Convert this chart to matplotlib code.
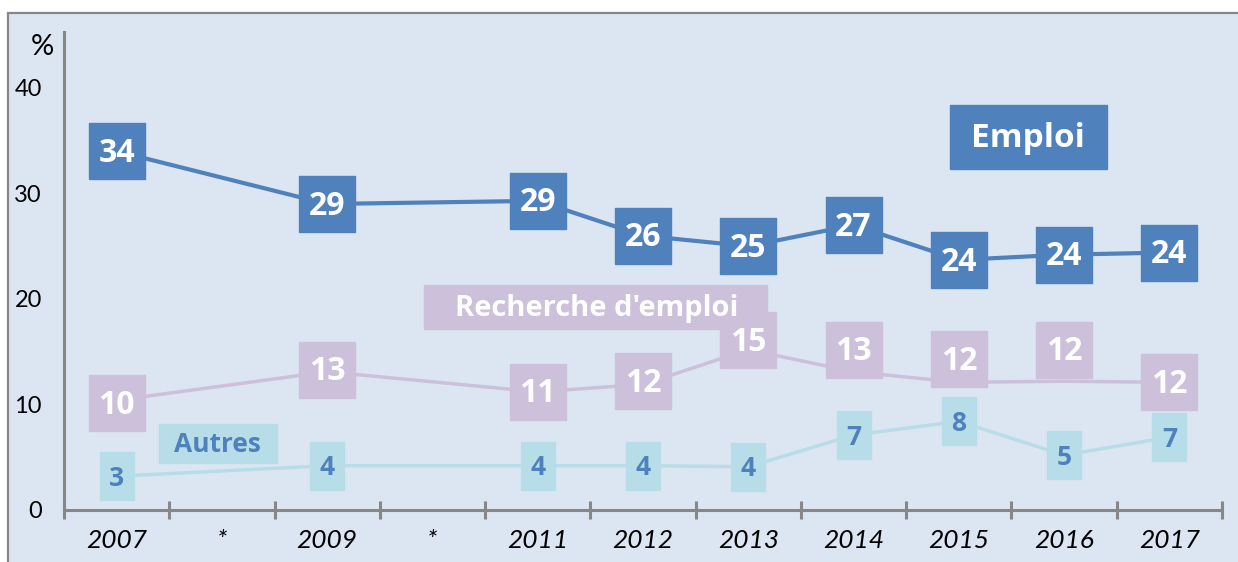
import numpy as np
import matplotlib
matplotlib.use("Agg")
import matplotlib.pyplot as plt
from matplotlib.patches import Rectangle

plt.rcParams['font.family'] = ['Lato', 'DejaVu Sans']

years = ['2007', '*', '2009', '*', '2011', '2012', '2013', '2014', '2015', '2016', '2017']

# line values (None = year not surveyed)
emploi = [34.0, None, 29.0, None, 29.3, 26.0, 25.0, 27.0, 23.7, 24.2, 24.4]
recherche = [10.4, None, 13.1, None, 11.2, 11.9, 15.2, 13.1, 12.1, 12.2, 12.1]
autres = [3.2, None, 4.2, None, 4.2, 4.2, 4.1, 7.1, 8.4, 5.2, 6.9]

# rounded labels shown in the boxes
emploi_lbl = [34, None, 29, None, 29, 26, 25, 27, 24, 24, 24]
recherche_lbl = [10, None, 13, None, 11, 12, 15, 13, 12, 12, 12]
autres_lbl = [3, None, 4, None, 4, 4, 4, 7, 8, 5, 7]

BG = '#dce6f2'
C_EMP = '#4f81bd'
C_REC = '#ccc0da'
C_AUT = '#b7dee8'
GREY = '#878787'
LBL_FONT = ['Open Sans', 'DejaVu Sans']

# label boxes nudged a bit (like in the original)
rec_shift = [-0.3, 0, 0.2, 0, 0, 0.3, 0.9, 2.1, 2.2, 3.0, 0]

fig = plt.figure(figsize=(12.38, 5.62), dpi=100)
fig.patch.set_facecolor('white')
frame = Rectangle((8 / 1238, -0.1), 1.2, 1 - 13 / 562 + 0.1, transform=fig.transFigure,
                  facecolor=BG, edgecolor=GREY, linewidth=1.6, zorder=-10)
fig.add_artist(frame)

ax = fig.add_axes([64 / 1238, 52 / 562, 1158 / 1238, 478 / 562])
ax.set_facecolor('none')
ax.set_xlim(-0.5, 10.5)
ax.set_ylim(0, 45.3)


def valid(vals):
    xs = [i for i, v in enumerate(vals) if v is not None]
    return np.array(xs), np.array([vals[i] for i in xs])


box_sq = [(-0.5, -0.5), (0.5, -0.5), (0.5, 0.5), (-0.5, 0.5), (-0.5, -0.5)]
box_tall = [(-0.34, -0.5), (0.34, -0.5), (0.34, 0.5), (-0.34, 0.5), (-0.34, -0.5)]

# Emploi
x, y = valid(emploi)
ax.plot(x, y, color=C_EMP, lw=3, zorder=2, solid_capstyle='round')
ax.plot(x, y, linestyle='none', marker=box_sq, markersize=40, color=C_EMP, zorder=4)
for i, v in enumerate(emploi):
    if v is None:
        continue
    ax.text(i, v - 0.2, str(emploi_lbl[i]), color='white', fontsize=23, fontweight='bold',
            family=LBL_FONT, ha='center', va='center', zorder=5)

# Recherche d'emploi
x, y = valid(recherche)
ys = np.array([recherche[i] + rec_shift[i] for i in x])
ax.plot(x, y, color=C_REC, lw=2.5, zorder=2)
ax.plot(x, ys, linestyle='none', marker=box_sq, markersize=40, color=C_REC, zorder=4)
for i, v in enumerate(recherche):
    if v is None:
        continue
    ax.text(i, v + rec_shift[i] - 0.2, str(recherche_lbl[i]), color='white', fontsize=23,
            fontweight='bold', family=LBL_FONT, ha='center', va='center', zorder=5)

# Autres
x, y = valid(autres)
ax.plot(x, y, color=C_AUT, lw=2.5, zorder=2)
ax.plot(x, y, linestyle='none', marker=box_tall, markersize=35, color=C_AUT, zorder=4)
for i, v in enumerate(autres):
    if v is None:
        continue
    ax.text(i, v - 0.2, str(autres_lbl[i]), color=C_EMP, fontsize=19, fontweight='bold',
            family=LBL_FONT, ha='center', va='center', zorder=5)

# series names
ax.add_patch(Rectangle((7.92, 32.3), 1.485, 6.1, color=C_EMP, zorder=3))
ax.text(8.66, 35.2, 'Emploi', color='white', fontsize=24, fontweight='bold',
        family=LBL_FONT, ha='center', va='center', zorder=5)
ax.add_patch(Rectangle((2.92, 17.2), 3.26, 4.1, color=C_REC, zorder=3))
ax.text(4.56, 19.1, "Recherche d'emploi", color='white', fontsize=21, fontweight='bold',
        family=LBL_FONT, ha='center', va='center', zorder=5)
ax.add_patch(Rectangle((0.40, 4.45), 1.12, 3.7, color=C_AUT, zorder=3))
ax.text(0.96, 6.2, 'Autres', color=C_EMP, fontsize=19, fontweight='bold',
        family=LBL_FONT, ha='center', va='center', zorder=5)

# axes styling
for s in ['top', 'right']:
    ax.spines[s].set_visible(False)
for s in ['left', 'bottom']:
    ax.spines[s].set_color(GREY)
    ax.spines[s].set_linewidth(2.2)

ax.set_yticks([0, 10, 20, 30, 40])
ax.tick_params(axis='y', length=0, pad=16, labelsize=17)
ax.set_xticks(range(len(years)))
ax.set_xticklabels(years, fontstyle='italic')
ax.set_xticks(np.arange(-0.5, 11, 1), minor=True)
ax.tick_params(axis='x', which='major', length=0, pad=14, labelsize=19)
ax.tick_params(axis='x', which='minor', direction='inout', length=13, width=2.2, color=GREY)

fig.text(42 / 1238, 1 - 47 / 562, '%', fontsize=21, ha='center', va='center')

fig.savefig('out.png', dpi=100)
